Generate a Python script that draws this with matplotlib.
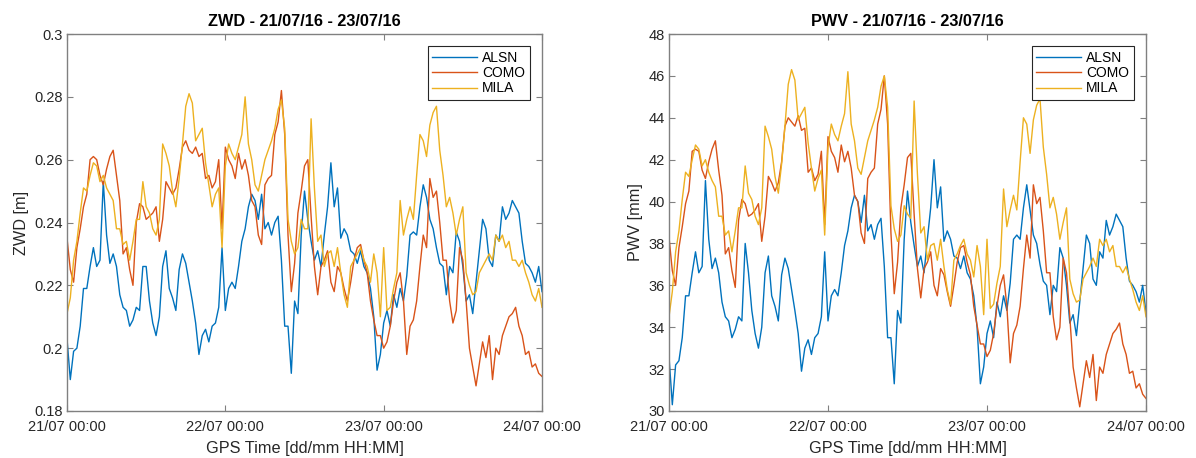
import matplotlib
matplotlib.use("Agg")
import matplotlib.pyplot as plt
import numpy as np

plt.rcParams['font.family'] = ['Liberation Sans', 'DejaVu Sans']

# time axis: hours since 21/07 00:00, every 30 minutes
hours = [0.5 * i for i in range(145)]
xtick_pos = [0, 24, 48, 72]
xtick_labels = ["21/07 00:00", "22/07 00:00", "23/07 00:00", "24/07 00:00"]
stations = ["ALSN", "COMO", "MILA"]
colors = ["#0072BD", "#D95319", "#EDB120"]

zwd_alsn = [
    0.203, 0.190, 0.199, 0.200, 0.207, 0.219, 0.219, 0.226, 0.232, 0.226, 0.228, 0.253, 0.236, 0.227, 0.230, 0.226, 0.217, 0.213, 0.212, 0.207,
    0.209, 0.213, 0.212, 0.226, 0.226, 0.215, 0.208, 0.204, 0.210, 0.226, 0.231, 0.219, 0.216, 0.212, 0.225, 0.230, 0.227,
    0.221, 0.215, 0.208, 0.198, 0.204, 0.206, 0.202, 0.207, 0.208, 0.213, 0.232, 0.212, 0.219, 0.221, 0.219, 0.226, 0.234, 0.238,
    0.245, 0.249, 0.247, 0.241, 0.249, 0.238, 0.240, 0.236, 0.240, 0.242, 0.228, 0.207, 0.207, 0.192, 0.215, 0.211, 0.236, 0.250,
    0.241, 0.234, 0.228, 0.231, 0.226, 0.236, 0.245, 0.259, 0.245, 0.251, 0.235, 0.238, 0.236, 0.231, 0.230, 0.227, 0.231, 0.226,
    0.224, 0.219, 0.210, 0.193, 0.198, 0.208, 0.212, 0.207, 0.217, 0.213, 0.219, 0.215, 0.223, 0.236, 0.237, 0.236, 0.245, 0.252,
    0.248, 0.241, 0.238, 0.232, 0.227, 0.226, 0.217, 0.226, 0.224, 0.237, 0.234, 0.226, 0.215, 0.217, 0.211, 0.221, 0.231, 0.241,
    0.238, 0.228, 0.226, 0.236, 0.234, 0.245, 0.241, 0.243, 0.247, 0.245, 0.243, 0.234, 0.227, 0.226, 0.224, 0.221, 0.226, 0.218,
]
zwd_como = [
    0.235, 0.225, 0.221, 0.232, 0.238, 0.245, 0.249, 0.260, 0.261, 0.260, 0.255, 0.252, 0.257, 0.261, 0.263, 0.255, 0.247, 0.230, 0.232, 0.225,
    0.220, 0.240, 0.246, 0.245, 0.241, 0.242, 0.243, 0.245, 0.234, 0.241, 0.253, 0.251, 0.249, 0.251, 0.257, 0.264, 0.266,
    0.263, 0.262, 0.264, 0.261, 0.262, 0.254, 0.255, 0.251, 0.253, 0.260, 0.238, 0.264, 0.260, 0.258, 0.254, 0.262, 0.257, 0.260,
    0.255, 0.247, 0.245, 0.236, 0.233, 0.252, 0.254, 0.255, 0.268, 0.272, 0.282, 0.268, 0.236, 0.218, 0.227, 0.243, 0.250, 0.258,
    0.260, 0.242, 0.226, 0.217, 0.226, 0.228, 0.231, 0.221, 0.218, 0.226, 0.224, 0.219, 0.215, 0.221, 0.228, 0.232, 0.233, 0.228,
    0.224, 0.215, 0.209, 0.204, 0.204, 0.200, 0.202, 0.207, 0.215, 0.221, 0.224, 0.215, 0.198, 0.207, 0.209, 0.215, 0.226, 0.236,
    0.232, 0.254, 0.248, 0.250, 0.240, 0.228, 0.228, 0.215, 0.208, 0.212, 0.232, 0.228, 0.215, 0.200, 0.194, 0.188, 0.195, 0.202,
    0.197, 0.204, 0.190, 0.200, 0.198, 0.204, 0.207, 0.210, 0.211, 0.213, 0.207, 0.204, 0.198, 0.199, 0.194, 0.195, 0.192, 0.191,
]
zwd_mila = [
    0.211, 0.216, 0.228, 0.234, 0.243, 0.251, 0.250, 0.255, 0.259, 0.258, 0.253, 0.255, 0.251, 0.249, 0.247, 0.238, 0.238, 0.233, 0.234, 0.228,
    0.234, 0.241, 0.241, 0.253, 0.245, 0.243, 0.238, 0.236, 0.241, 0.265, 0.262, 0.258, 0.250, 0.245, 0.254, 0.265, 0.277,
    0.281, 0.278, 0.266, 0.268, 0.270, 0.259, 0.252, 0.245, 0.249, 0.251, 0.232, 0.258, 0.265, 0.262, 0.260, 0.264, 0.268, 0.280,
    0.265, 0.260, 0.252, 0.250, 0.255, 0.260, 0.263, 0.266, 0.270, 0.276, 0.279, 0.270, 0.241, 0.234, 0.230, 0.232, 0.241, 0.238,
    0.238, 0.273, 0.251, 0.234, 0.236, 0.226, 0.230, 0.231, 0.226, 0.232, 0.224, 0.217, 0.213, 0.226, 0.228, 0.230, 0.232, 0.228,
    0.226, 0.221, 0.230, 0.224, 0.210, 0.232, 0.212, 0.213, 0.219, 0.224, 0.247, 0.236, 0.241, 0.245, 0.241, 0.255, 0.268, 0.266,
    0.261, 0.271, 0.275, 0.277, 0.263, 0.255, 0.245, 0.248, 0.243, 0.236, 0.241, 0.245, 0.224, 0.220, 0.217, 0.218, 0.224, 0.226,
    0.228, 0.230, 0.228, 0.236, 0.234, 0.236, 0.232, 0.234, 0.228, 0.228, 0.226, 0.228, 0.224, 0.221, 0.217, 0.215, 0.219, 0.213,
]

pwv_alsn = [
    32.6, 30.3, 32.2, 32.4, 33.5, 35.5, 35.5, 36.6, 37.6, 36.6, 36.9, 41.0, 38.2, 36.8, 37.3, 36.6, 35.2, 34.5, 34.3, 33.5,
    33.9, 34.5, 34.3, 38.0, 36.6, 34.8, 33.7, 33.0, 34.0, 36.6, 37.4, 35.5, 35.0, 34.3, 36.5, 37.3, 36.8,
    35.8, 34.8, 33.7, 31.9, 33.0, 33.4, 32.7, 33.5, 33.7, 34.5, 37.6, 34.3, 35.5, 35.8, 35.5, 36.6, 37.9, 38.6,
    39.7, 40.3, 40.0, 39.0, 40.3, 38.6, 38.9, 38.2, 38.9, 39.2, 36.9, 33.5, 33.5, 31.3, 34.8, 34.2, 38.2, 40.5,
    39.0, 37.9, 36.9, 37.4, 36.6, 38.2, 39.7, 42.0, 39.7, 40.7, 38.1, 38.6, 38.2, 37.4, 37.3, 36.8, 37.4, 36.6,
    36.3, 35.5, 34.0, 31.3, 32.1, 33.7, 34.3, 33.5, 35.2, 34.5, 35.5, 34.8, 36.1, 38.2, 38.4, 38.2, 39.7, 40.8,
    39.6, 38.4, 38.0, 37.0, 36.2, 36.0, 34.6, 36.0, 35.7, 37.8, 37.3, 36.0, 34.2, 34.6, 33.6, 35.2, 36.8, 38.4,
    38.0, 36.3, 36.0, 37.6, 37.3, 39.1, 38.4, 38.8, 39.4, 39.1, 38.8, 37.3, 36.2, 36.0, 35.7, 35.2, 36.0, 34.7,
]
pwv_como = [
    38.3, 36.7, 36.0, 37.8, 38.8, 39.9, 40.5, 42.4, 42.5, 42.4, 41.5, 41.1, 41.9, 42.5, 42.9, 41.5, 40.3, 37.5, 37.8, 36.7,
    35.9, 39.1, 40.1, 39.9, 39.3, 39.4, 39.6, 39.9, 38.1, 39.3, 41.2, 40.9, 40.5, 40.9, 41.9, 43.6, 44.0,
    43.8, 43.6, 44.1, 43.4, 43.5, 41.4, 41.6, 41.0, 41.3, 42.4, 38.9, 43.1, 42.4, 42.1, 41.4, 42.7, 41.9, 42.4,
    41.6, 40.3, 40.0, 38.5, 38.0, 41.1, 41.4, 41.6, 43.7, 44.4, 46.0, 43.7, 38.5, 35.6, 37.1, 39.7, 40.8, 42.1,
    42.3, 39.4, 36.8, 35.4, 36.8, 37.1, 37.6, 36.0, 35.5, 36.8, 36.5, 35.7, 35.0, 36.0, 37.1, 37.8, 37.9, 37.1,
    36.5, 35.0, 34.1, 33.2, 33.2, 32.6, 32.9, 33.7, 35.0, 36.0, 36.5, 35.0, 32.3, 33.7, 34.1, 35.0, 36.8, 38.4,
    37.3, 40.8, 39.9, 40.2, 38.6, 36.6, 36.6, 34.5, 33.4, 34.0, 37.3, 36.6, 34.5, 32.1, 31.1, 30.2, 31.3, 32.4,
    31.6, 32.7, 30.5, 32.1, 31.8, 32.7, 33.2, 33.7, 33.9, 34.2, 33.2, 32.7, 31.8, 31.9, 31.1, 31.3, 30.8, 30.6,
]
pwv_mila = [
    34.5, 35.7, 37.6, 38.6, 40.1, 41.4, 41.2, 42.0, 42.7, 42.5, 41.7, 42.0, 41.4, 41.0, 40.7, 39.3, 39.3, 38.4, 38.6, 37.6,
    38.6, 39.7, 39.7, 41.7, 40.4, 40.1, 39.3, 38.9, 39.7, 43.6, 43.1, 42.5, 41.2, 40.4, 41.8, 43.6, 45.6,
    46.3, 45.8, 43.9, 44.2, 44.5, 42.8, 41.6, 40.5, 41.1, 41.5, 38.4, 42.6, 43.7, 43.2, 42.9, 43.6, 44.2, 46.2,
    43.7, 42.9, 41.6, 41.3, 42.1, 42.9, 43.4, 43.9, 44.5, 45.5, 46.0, 44.5, 39.8, 38.7, 38.1, 38.4, 39.8, 39.4,
    39.2, 44.8, 41.3, 38.5, 38.8, 37.2, 37.9, 38.0, 37.2, 38.2, 36.9, 35.8, 35.1, 37.2, 37.5, 37.9, 38.2, 37.5,
    37.2, 36.4, 37.9, 36.9, 34.6, 38.2, 34.9, 35.1, 36.1, 36.9, 40.6, 38.8, 39.6, 40.3, 39.6, 41.9, 44.0, 43.7,
    42.3, 43.9, 44.6, 44.9, 42.6, 41.3, 39.7, 40.2, 39.4, 38.2, 39.0, 39.7, 36.3, 35.6, 35.2, 35.3, 36.3, 36.6,
    36.9, 37.3, 36.9, 38.2, 37.9, 38.2, 37.6, 37.9, 36.9, 36.9, 36.6, 36.9, 36.3, 35.8, 35.2, 34.8, 35.5, 34.5,
]

zwd_yticks = [0.18, 0.2, 0.22, 0.24, 0.26, 0.28, 0.3]
zwd_ylabels = ["0.18", "0.2", "0.22", "0.24", "0.26", "0.28", "0.3"]
pwv_yticks = [30, 32, 34, 36, 38, 40, 42, 44, 46, 48]

fig = plt.figure(figsize=(11.96, 4.58), dpi=100)
ax1 = fig.add_axes([67/1196, 1-411/458, 475/1196, 377/458])
ax2 = fig.add_axes([669/1196, 1-411/458, 477/1196, 377/458])

axcol = "#262626"
edgecol = "#808080"

def style(ax, title, ylabel, yticks, ylabels, ylim):
    ax.set_xlim(0, 72)
    ax.set_ylim(*ylim)
    ax.set_xticks(xtick_pos)
    ax.set_xticklabels(xtick_labels)
    ax.set_yticks(yticks)
    ax.set_yticklabels(ylabels)
    ax.tick_params(direction="in", length=4, width=0.8, top=True, right=True,
                   labelsize=10.5, colors=axcol, pad=3)
    ax.tick_params(axis="x", pad=6.5)
    ax.tick_params(axis="both", color=edgecol)
    for s in ax.spines.values():
        s.set_color(edgecol)
        s.set_linewidth(1.0)
    ax.set_title(title, fontsize=11.7, fontweight="bold", color="black", pad=6)
    ax.set_xlabel("GPS Time [dd/mm HH:MM]", fontsize=11.7, color=axcol, labelpad=5)
    ax.set_ylabel(ylabel, fontsize=11.7, color=axcol, labelpad=4)

for ax, series in ((ax1, (zwd_alsn, zwd_como, zwd_mila)), (ax2, (pwv_alsn, pwv_como, pwv_mila))):
    for name, vals, c in zip(stations, series, colors):
        ax.plot(hours, vals, color=c, lw=1.0, label=name)
    leg = ax.legend(loc="upper right", fontsize=10, frameon=True, fancybox=False,
                    framealpha=1, edgecolor="#262626", borderpad=0.3, labelspacing=0.1,
                    handlelength=3.2, handletextpad=0.4, borderaxespad=0.9)
    leg.get_frame().set_linewidth(0.8)

style(ax1, "ZWD - 21/07/16 - 23/07/16", "ZWD [m]", zwd_yticks, zwd_ylabels, (0.18, 0.30))
style(ax2, "PWV - 21/07/16 - 23/07/16", "PWV [mm]", pwv_yticks, [str(v) for v in pwv_yticks], (30, 48))

fig.savefig("out.png", dpi=100)
